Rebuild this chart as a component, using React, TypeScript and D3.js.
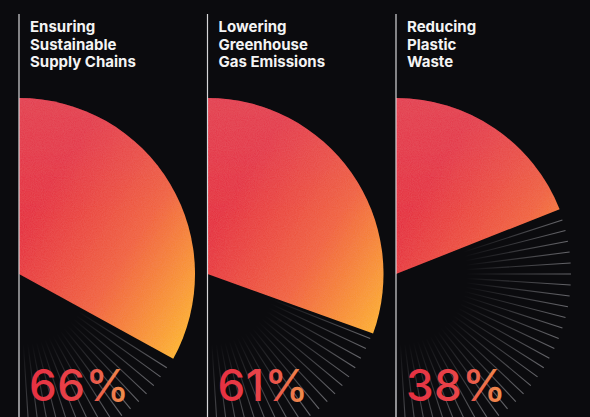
import { useEffect, useRef } from 'react';
import * as d3 from 'd3';

// data
const titles = [
  ['Ensuring', 'Sustainable', 'Supply Chains'],
  ['Lowering', 'Greenhouse', 'Gas Emissions'],
  ['Reducing', 'Plastic\u2028', 'Waste'],
];
const values = [66, 61, 38];
const labels = ['66%', '61%', '38%'];

export default function App() {
  const svgRef = useRef<SVGSVGElement>(null);

  useEffect(() => {
    if (!svgRef.current) return;
    document.body.style.margin = '0';
    const svg = d3.select(svgRef.current);
    svg.selectAll('*').remove();

    const w = 590, h = 417;
    const cy = 274, r = 176;

    svg.append('rect').attr('width', w).attr('height', h).attr('fill', '#0b0b0e');

    const defs = svg.append('defs');

    // wedge fill, in each panel's local coordinates (origin = arc centre)
    const fill = defs.append('linearGradient').attr('id', 'wedgeFill')
      .attr('gradientUnits', 'userSpaceOnUse')
      .attr('x1', 0).attr('y1', -40).attr('x2', 170).attr('y2', 70);
    fill.append('stop').attr('offset', '0%').attr('stop-color', '#e52e3e');
    fill.append('stop').attr('offset', '50%').attr('stop-color', '#f1623c');
    fill.append('stop').attr('offset', '100%').attr('stop-color', '#fdb62a');

    const pink = defs.append('linearGradient').attr('id', 'wedgePink')
      .attr('gradientUnits', 'userSpaceOnUse')
      .attr('x1', 0).attr('y1', -r).attr('x2', 0).attr('y2', -60);
    pink.append('stop').attr('offset', '0%').attr('stop-color', '#e0566a').attr('stop-opacity', 0.4);
    pink.append('stop').attr('offset', '100%').attr('stop-color', '#e0566a').attr('stop-opacity', 0);

    const rayFade = defs.append('radialGradient').attr('id', 'rayFade')
      .attr('gradientUnits', 'userSpaceOnUse')
      .attr('cx', 0).attr('cy', 0).attr('r', r).attr('fx', 0).attr('fy', 0);
    rayFade.append('stop').attr('offset', '40%').attr('stop-color', '#a4a4aa').attr('stop-opacity', 0);
    rayFade.append('stop').attr('offset', '100%').attr('stop-color', '#a4a4aa').attr('stop-opacity', 0.6);

    const pctFill = defs.append('linearGradient').attr('id', 'pctFill')
      .attr('x1', 0).attr('y1', 0).attr('x2', 1).attr('y2', 0);
    pctFill.append('stop').attr('offset', '0%').attr('stop-color', '#e62f41');
    pctFill.append('stop').attr('offset', '55%').attr('stop-color', '#e9474a');
    pctFill.append('stop').attr('offset', '100%').attr('stop-color', '#f0984c');

    // faint grain over the wedges
    const grain = defs.append('filter').attr('id', 'grain').attr('x', 0).attr('y', 0).attr('width', 1).attr('height', 1);
    grain.append('feTurbulence').attr('type', 'fractalNoise').attr('baseFrequency', 0.9)
      .attr('numOctaves', 2).attr('seed', 3).attr('result', 'noise');
    grain.append('feColorMatrix').attr('in', 'noise').attr('type', 'matrix')
      .attr('values', '0 0 0 0 1  0 0 0 0 0.9  0 0 0 0 0.9  0 0 0 0.05 0').attr('result', 'grainA');
    grain.append('feComposite').attr('in', 'grainA').attr('in2', 'SourceGraphic').attr('operator', 'in').attr('result', 'grainIn');
    grain.append('feMerge').selectAll('feMergeNode').data(['SourceGraphic', 'grainIn']).enter()
      .append('feMergeNode').attr('in', (d: string) => d);

    const x = d3.scaleBand<number>().domain(d3.range(values.length)).range([19, 19 + 3 * 188.5]);
    const angle = d3.scaleLinear().domain([0, 100]).range([0, Math.PI]);
    const arc = d3.arc<number>().innerRadius(0).outerRadius(r).startAngle(0).endAngle(d => angle(d));

    values.forEach((v, i) => {
      const x0 = x(i)!;
      const g = svg.append('g');

      // rays in the empty part of the half circle
      const end = angle(v);
      const step = Math.PI / 50;
      const rays = d3.range(0, 51).map(k => k * step).filter(a => a > end + 0.03);
      const rg = g.append('g').attr('transform', `translate(${x0},${cy})`);
      rg.selectAll('line').data(rays).enter().append('line')
        .attr('x1', a => Math.sin(a) * r * 0.35).attr('y1', a => -Math.cos(a) * r * 0.35)
        .attr('x2', a => Math.sin(a) * (r - 1)).attr('y2', a => -Math.cos(a) * (r - 1))
        .attr('stroke', 'url(#rayFade)').attr('stroke-width', 1.1);

      // wedge
      const wg = rg.append('g').attr('filter', 'url(#grain)');
      wg.append('path').attr('d', arc(v)!).attr('fill', 'url(#wedgeFill)');
      wg.append('path').attr('d', arc(v)!).attr('fill', 'url(#wedgePink)');

      // divider line
      g.append('line').attr('x1', x0).attr('x2', x0).attr('y1', 14).attr('y2', h)
        .attr('stroke', '#d6d6d8').attr('stroke-width', 1.2);

      // title
      const t = g.append('text').attr('x', x0 + 11).attr('y', 32)
        .attr('fill', '#f4f4f4').attr('font-family', 'Inter').attr('font-weight', 700)
        .attr('font-size', 15);
      titles[i].forEach((line, j) => {
        t.append('tspan').attr('x', x0 + 11).attr('y', 32 + j * 17.6).text(line);
      });

      // percentage
      g.append('text').attr('x', x0 + 10).attr('y', 401)
        .attr('fill', 'url(#pctFill)').attr('font-family', 'Inter').attr('font-weight', 500)
        .attr('font-size', 44).attr('letter-spacing', 0.5).text(labels[i]);
    });
  }, []);

  return <svg ref={svgRef} width={590} height={417} viewBox="0 0 590 417" style={{ display: 'block' }} />;
}
